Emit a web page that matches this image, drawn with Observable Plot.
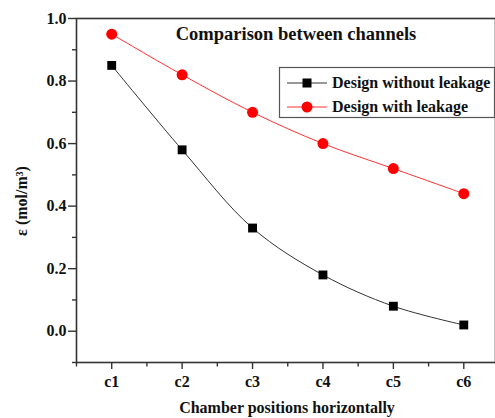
<!DOCTYPE html>
<html>
<head>
<meta charset="utf-8">
<script src="https://cdn.jsdelivr.net/npm/d3@7"></script>
<script src="https://cdn.jsdelivr.net/npm/@observablehq/plot@0.6"></script>
<style>
  html, body { margin: 0; padding: 0; background: #fff; overflow: hidden; }
  #chart { width: 495px; height: 418px; overflow: hidden; }
</style>
</head>
<body>
<div id="chart"></div>
<script>
const categories = ["c1", "c2", "c3", "c4", "c5", "c6"];
const withoutLeakage = [0.85, 0.58, 0.33, 0.18, 0.08, 0.02];
const withLeakage = [0.95, 0.82, 0.70, 0.60, 0.52, 0.44];
const seriesNames = ["Design without leakage", "Design with leakage"];
const yMajorTicks = [0.0, 0.2, 0.4, 0.6, 0.8, 1.0];
const yMinorTicks = [-0.1, 0.1, 0.3, 0.5, 0.7, 0.9];
const title = "Comparison between channels";
const xLabel = "Chamber positions horizontally";
const yLabel = "ε (mol/m³)";

const font = "'Liberation Serif', 'Times New Roman', serif";
const rowsA = categories.map((c, i) => ({x: i + 1, y: withoutLeakage[i]}));
const rowsB = categories.map((c, i) => ({x: i + 1, y: withLeakage[i]}));
const xMajor = categories.map((c, i) => i + 1);
const xMinor = categories.map((c, i) => i + 0.5);

const axisColor = "#333";

const plot = Plot.plot({
  width: 495,
  height: 418,
  marginTop: 18,
  marginBottom: 56,
  marginLeft: 76,
  marginRight: 0,
  style: {fontFamily: font, fontWeight: "bold", background: "#fff", overflow: "hidden"},
  x: {type: "linear", domain: [0.5, 6.5], range: [76, 498.5]},
  y: {domain: [-0.1, 1.0]},
  marks: [
    Plot.frame({stroke: axisColor, strokeWidth: 1.6}),
    Plot.axisY({ticks: yMajorTicks, tickSize: 8, tickPadding: 2, tickFormat: d3.format(".1f"),
      fontSize: 16, fontWeight: "bold", label: null, stroke: axisColor, strokeWidth: 1.4, fill: "#111"}),
    Plot.axisY({ticks: yMinorTicks, tickSize: 4, tickFormat: () => "", label: null, stroke: axisColor, strokeWidth: 1.4}),
    Plot.axisX({ticks: xMajor, tickSize: 7, tickPadding: 6, tickFormat: d => categories[d - 1],
      fontSize: 16, fontWeight: "bold", label: null, stroke: axisColor, strokeWidth: 1.4, fill: "#111"}),
    Plot.axisX({ticks: xMinor, tickSize: 4.5, tickFormat: () => "", label: null, stroke: axisColor, strokeWidth: 1.4}),
    Plot.line(rowsB, {x: "x", y: "y", stroke: "#ff3333", strokeWidth: 1, curve: "catmull-rom"}),
    Plot.line(rowsA, {x: "x", y: "y", stroke: "#333", strokeWidth: 1, curve: "catmull-rom"}),
    Plot.dot(rowsB, {x: "x", y: "y", r: 5.5, fill: "#ff0000", stroke: "none"}),
    Plot.dot(rowsA, {x: "x", y: "y", r: 5, symbol: "square", fill: "#000", stroke: "none"})
  ]
});

const svg = d3.select(plot);
// Title
svg.append("text")
  .attr("x", 296).attr("y", 40)
  .attr("text-anchor", "middle")
  .style("font-family", font).style("font-weight", "bold").style("font-size", "18.5px")
  .attr("fill", "#111")
  .text(title);

// Legend
const lg = svg.append("g");
lg.append("rect").attr("x", 279.5).attr("y", 67.5).attr("width", 215).attr("height", 50)
  .attr("fill", "#fff").attr("stroke", "#555").attr("stroke-width", 1.2);
const legendItems = [
  {name: seriesNames[0], color: "#333", dot: "#000", shape: "square", y: 83},
  {name: seriesNames[1], color: "#ff3333", dot: "#ff0000", shape: "circle", y: 107}
];
legendItems.forEach(it => {
  lg.append("line").attr("x1", 287).attr("x2", 327).attr("y1", it.y).attr("y2", it.y)
    .attr("stroke", it.color).attr("stroke-width", 1);
  if (it.shape === "square") {
    lg.append("rect").attr("x", 307 - 4.5).attr("y", it.y - 4.5).attr("width", 9).attr("height", 9).attr("fill", it.dot);
  } else {
    lg.append("circle").attr("cx", 307).attr("cy", it.y).attr("r", 5.5).attr("fill", it.dot);
  }
  lg.append("text").attr("x", 332).attr("y", it.y + 5)
    .attr("text-anchor", "start")
    .style("font-family", font).style("font-weight", "bold").style("font-size", "16px")
    .attr("fill", "#111").text(it.name);
});

// Axis labels
svg.append("text")
  .attr("transform", "translate(27,201) rotate(-90)")
  .attr("text-anchor", "middle")
  .style("font-family", font).style("font-weight", "bold").style("font-size", "16px")
  .attr("fill", "#111")
  .text(yLabel);
svg.append("text")
  .attr("x", 287).attr("y", 413)
  .attr("text-anchor", "middle")
  .style("font-family", font).style("font-weight", "bold").style("font-size", "16px")
  .attr("fill", "#111")
  .text(xLabel);

document.getElementById("chart").appendChild(plot);
</script>
</body>
</html>
